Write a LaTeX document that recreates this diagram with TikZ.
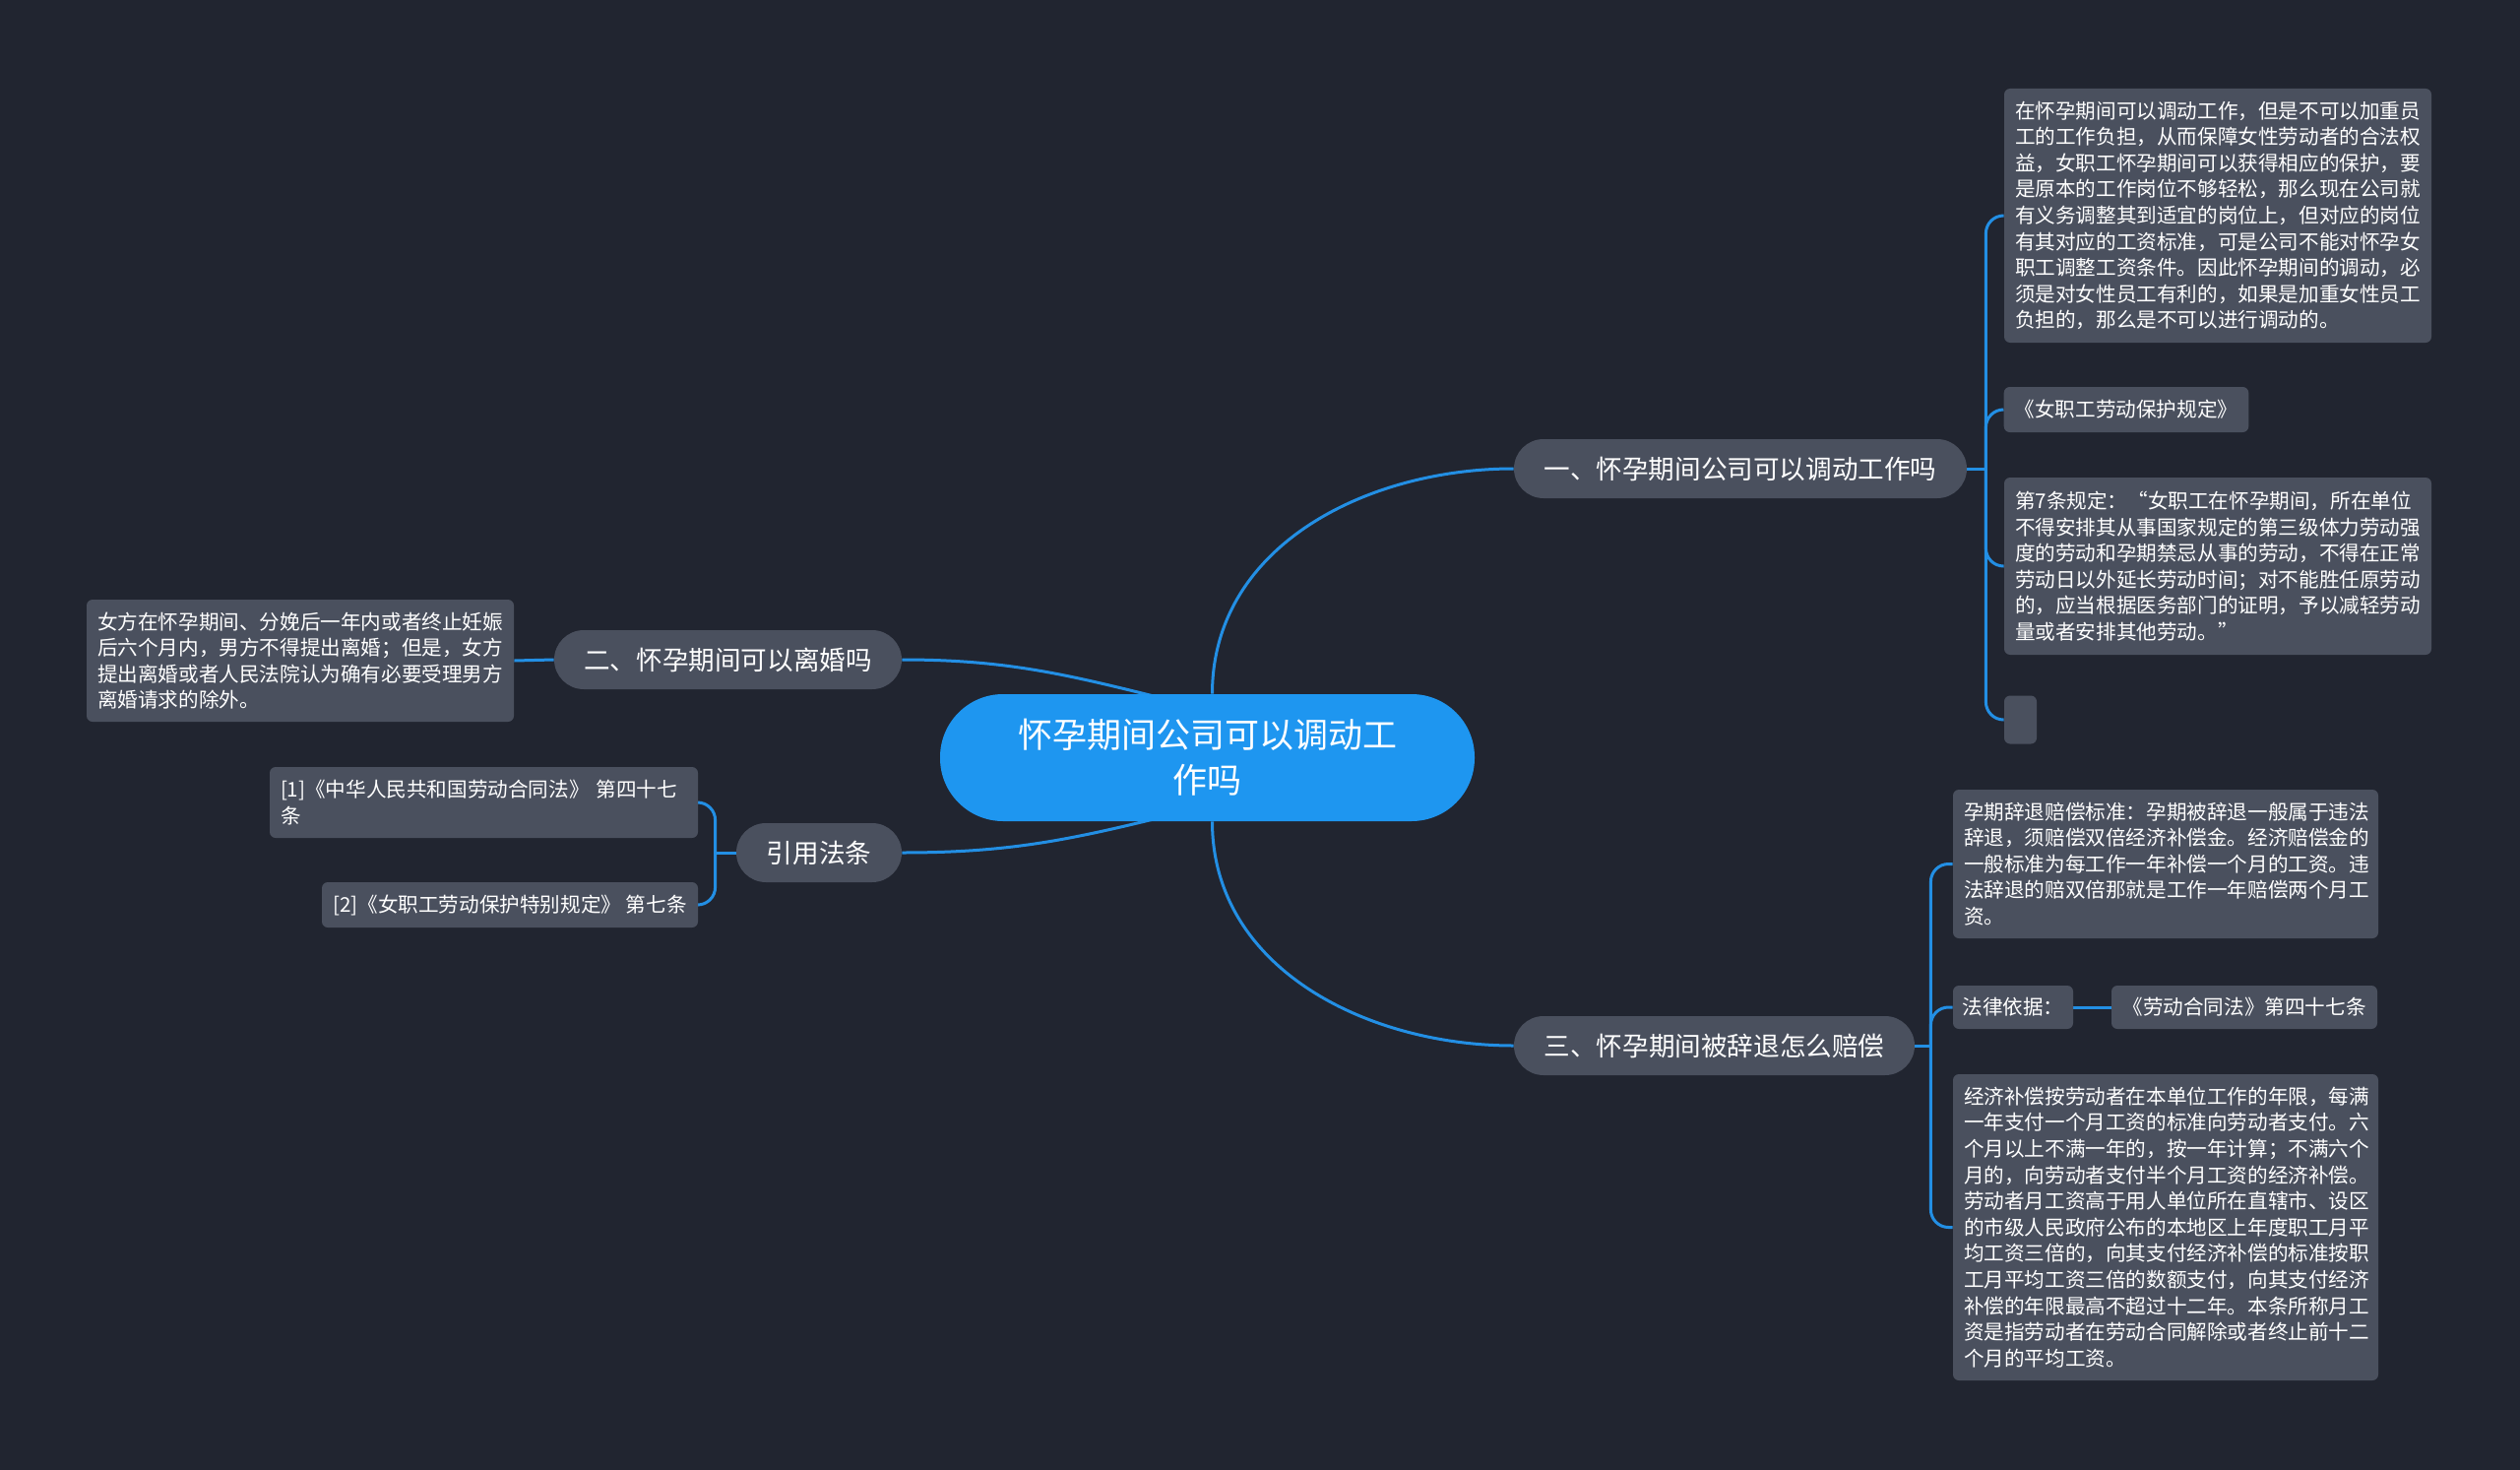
\documentclass[tikz,border=0pt]{standalone}
\usepackage{fontspec}
\newfontfamily\cjk{Noto Sans CJK SC}
\usetikzlibrary{calc}
\definecolor{bgc}{RGB}{33,37,48}
\definecolor{nodeg}{RGB}{74,80,94}
\definecolor{rootb}{RGB}{30,150,240}
\definecolor{lineb}{RGB}{35,143,228}
\pgfdeclarelayer{bglayer}
\pgfdeclarelayer{edges}
\pgfsetlayers{bglayer,edges,main}
\tikzset{
  leaf/.style={fill=nodeg, rounded corners=3pt, text=white,
    font=\cjk\fontsize{10.3}{13.3}\selectfont, align=left,
    inner xsep=5.5pt, inner ysep=0pt},
  branch/.style={fill=nodeg, rounded corners=15pt, text=white,
    font=\cjk\fontsize{13.3}{16}\selectfont, minimum height=30pt, inner sep=0pt},
  rootnode/.style={fill=rootb, rounded corners=32pt, text=white,
    font=\cjk\fontsize{17.5}{23}\selectfont, align=center,
    minimum width=271.5pt, minimum height=64.5pt, inner sep=0pt},
  link/.style={draw=lineb, line width=1.5pt},
  spine/.style={draw=lineb, line width=1.5pt, rounded corners=9pt},
}
\begin{document}
\begin{tikzpicture}[x=0.5pt,y=-0.5pt]
\begin{pgfonlayer}{bglayer}
\fill[bgc] (0,0) rectangle (2560,1493);
\end{pgfonlayer}
\useasboundingbox (0,0) rectangle (2560,1493);

% root
\node[rootnode] (root) at (1226.5,769.5) {怀孕期间公司可以调动工\\作吗};

% branches
\node[branch, minimum width=230pt] (b1) at (1768,476) {一、怀孕期间公司可以调动工作吗};
\node[branch, minimum width=176.5pt] (b2) at (739.5,670) {二、怀孕期间可以离婚吗};
\node[branch, minimum width=84pt] (b4) at (832,866) {引用法条};
\node[branch, minimum width=203.5pt] (b3) at (1741.5,1062) {三、怀孕期间被辞退怎么赔偿};

% branch 1 leaves
\node[leaf, text width=206pt, minimum height=129pt] (l1a) at (2253,219) {在怀孕期间可以调动工作，但是不可以加重员\\工的工作负担，从而保障女性劳动者的合法权\\益，女职工怀孕期间可以获得相应的保护，要\\是原本的工作岗位不够轻松，那么现在公司就\\有义务调整其到适宜的岗位上，但对应的岗位\\有其对应的工资标准，可是公司不能对怀孕女\\职工调整工资条件。因此怀孕期间的调动，必\\须是对女性员工有利的，如果是加重女性员工\\负担的，那么是不可以进行调动的。};
\node[leaf, minimum width=124pt, minimum height=23pt] (l1b) at (2160,416) {《女职工劳动保护规定》};
\node[leaf, text width=206pt, minimum height=90pt] (l1c) at (2253,575) {第7条规定：“女职工在怀孕期间，所在单位\\不得安排其从事国家规定的第三级体力劳动强\\度的劳动和孕期禁忌从事的劳动，不得在正常\\劳动日以外延长劳动时间；对不能胜任原劳动\\的，应当根据医务部门的证明，予以减轻劳动\\量或者安排其他劳动。”};
\node[leaf, inner xsep=0pt, minimum width=16.5pt, minimum height=24.5pt] (l1d) at (2052.5,731) {};

% branch 2 leaf
\node[leaf, text width=206pt, minimum height=62pt] (l2) at (305,671) {女方在怀孕期间、分娩后一年内或者终止妊娠\\后六个月内，男方不得提出离婚；但是，女方\\提出离婚或者人民法院认为确有必要受理男方\\离婚请求的除外。};

% cited law leaves
\node[leaf, text width=206.5pt, minimum height=36pt] (r1) at (491.5,815) {[1]《中华人民共和国劳动合同法》 第四十七\\条};
\node[leaf, minimum width=191pt, minimum height=23pt] (r2) at (518,919) {[2]《女职工劳动保护特别规定》 第七条};

% branch 3 leaves
\node[leaf, text width=205pt, minimum height=75.5pt] (c1) at (2200,877.5) {孕期辞退赔偿标准：孕期被辞退一般属于违法\\辞退，须赔偿双倍经济补偿金。经济赔偿金的\\一般标准为每工作一年补偿一个月的工资。违\\法辞退的赔双倍那就是工作一年赔偿两个月工\\资。};
\node[leaf, minimum width=61pt, minimum height=22pt, inner xsep=3pt] (c2) at (2045,1023) {法律依据：};
\node[leaf, minimum width=135pt, minimum height=22pt] (c2b) at (2280,1023) {《劳动合同法》第四十七条};
\node[leaf, text width=205pt, minimum height=155.5pt] (c3) at (2200,1246.5) {经济补偿按劳动者在本单位工作的年限，每满\\一年支付一个月工资的标准向劳动者支付。六\\个月以上不满一年的，按一年计算；不满六个\\月的，向劳动者支付半个月工资的经济补偿。\\劳动者月工资高于用人单位所在直辖市、设区\\的市级人民政府公布的本地区上年度职工月平\\均工资三倍的，向其支付经济补偿的标准按职\\工月平均工资三倍的数额支付，向其支付经济\\补偿的年限最高不超过十二年。本条所称月工\\资是指劳动者在劳动合同解除或者终止前十二\\个月的平均工资。};

\begin{pgfonlayer}{edges}
% root to branches
\draw[link] ($(root.north)+(5,0)$) to[out=90,in=180] (b1.west);
\draw[link] ($(root.south)+(5,0)$) to[out=-90,in=180] (b3.west);
\draw[link] (b2.east) to[out=0,in=166] ($(root.north)+(-32,8)$);
\draw[link] (b4.east) to[out=0,in=-166] ($(root.south)+(-32,-8)$);

% branch 1
\coordinate (s1) at ($(b1.east)+(19,0)$);
\draw[link] (b1.east) -- (s1);
\draw[spine] (s1) |- (l1a.west);
\draw[spine] (s1) |- (l1b.west);
\draw[spine] (s1) |- (l1c.west);
\draw[spine] (s1) |- (l1d.west);

% branch 2
\draw[link] (b2.west) -- (l2.east);

% cited laws
\coordinate (s4) at ($(b4.west)+(-21,0)$);
\draw[link] (b4.west) -- (s4);
\draw[spine] (s4) |- (r1.east);
\draw[spine] (s4) |- (r2.east);

% branch 3
\coordinate (s3) at ($(b3.east)+(16,0)$);
\draw[link] (b3.east) -- (s3);
\draw[spine] (s3) |- (c1.west);
\draw[spine] (s3) |- (c2.west);
\draw[spine] (s3) |- (c3.west);
\draw[link] (c2.east) -- (c2b.west);
\end{pgfonlayer}
\end{tikzpicture}
\end{document}
